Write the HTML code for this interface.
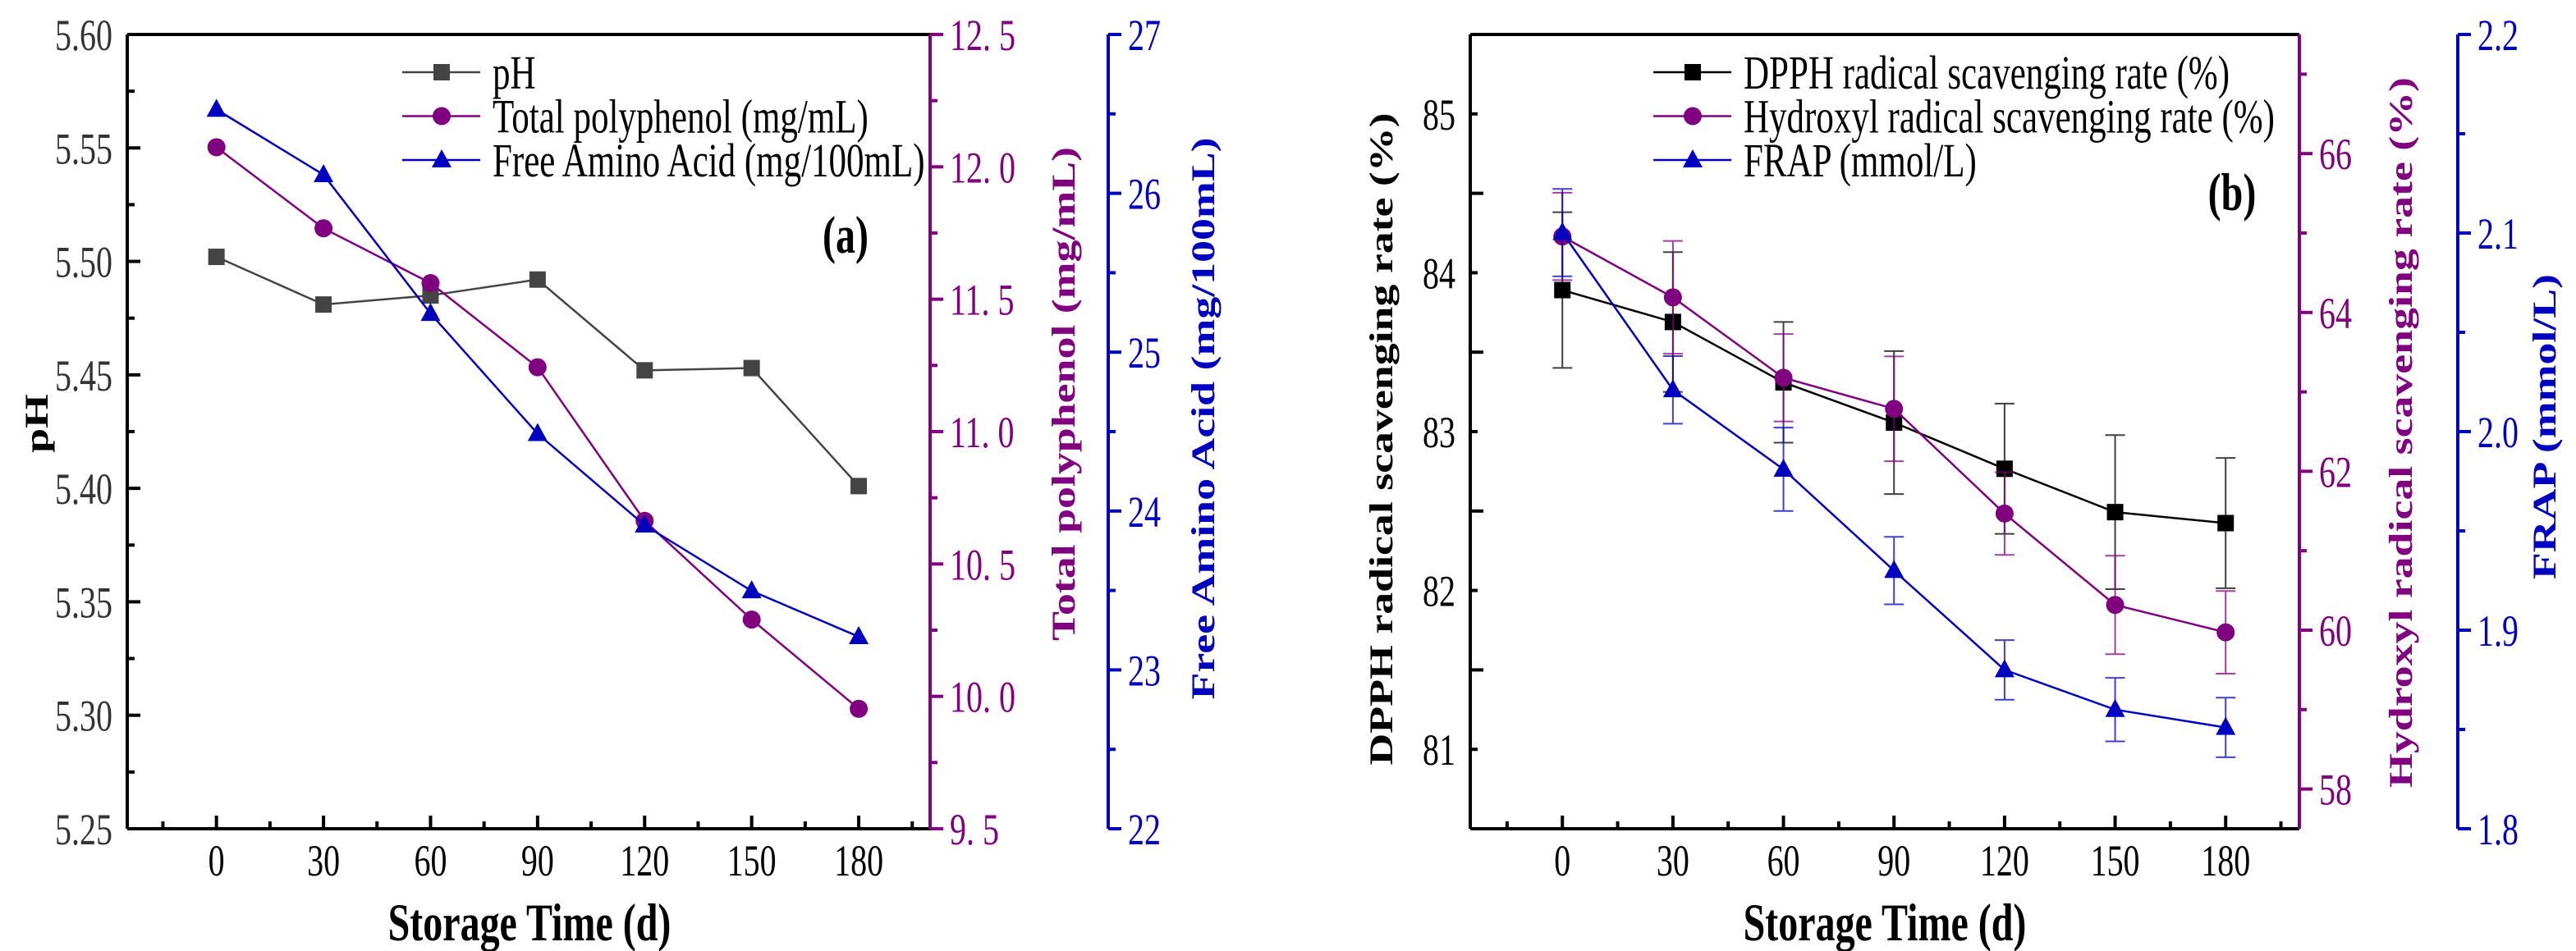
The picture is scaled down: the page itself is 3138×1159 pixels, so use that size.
<!DOCTYPE html>
<html><head><meta charset="utf-8"><style>
html,body{margin:0;padding:0;background:#fff;}
svg{display:block;font-family:"Liberation Serif",serif;}
</style></head><body>
<svg id="c" width="3138" height="1159" viewBox="0 0 3138 1159" xmlns="http://www.w3.org/2000/svg"></svg>
<script>
const days=[0,30,60,90,120,150,180];
const phVals=[5.502,5.481,5.485,5.492,5.452,5.453,5.401];
const polyVals=[12.074,11.768,11.561,11.243,10.663,10.29,9.953];
const aminoVals=[26.528,26.117,25.243,24.487,23.911,23.497,23.209];
const dpphVals=[83.891,83.69,83.31,83.057,82.766,82.493,82.424];
const dpphErr=[0.49,0.44,0.38,0.45,0.41,0.485,0.41];
const hydVals=[64.957,64.19,63.178,62.787,61.468,60.318,59.973];
const hydErr=[0.55,0.71,0.55,0.66,0.52,0.62,0.52];
const frapVals=[2.1002,2.021,1.981,1.930,1.880,1.860,1.851];
const frapErr=[0.022,0.017,0.021,0.017,0.015,0.016,0.015];
const xTicks=[0,30,60,90,120,150,180];

const svg=document.getElementById('c');
const NS='http://www.w3.org/2000/svg';
const SY=1.346;
function el(tag,attrs,parent,text){const e=document.createElementNS(NS,tag);for(const k in attrs)e.setAttribute(k,attrs[k]);if(text!==undefined)e.textContent=text;(parent||svg).appendChild(e);return e;}
function htext(g,x,y,text,size,opts){const a={transform:`translate(${x},${y}) scale(1,${SY})`,'font-size':size};Object.assign(a,opts||{});return el('text',a,g,text);}
function lin(d0,d1,r0,r1){return v=>r0+(v-d0)/(d1-d0)*(r1-r0);}
const TOP=42,BOT=1010;
const PURPLE='#800080',BLUE='#0000c0';

function marker(g,type,x,y,color){
  let m;
  if(type==='sq')m=el('rect',{x:x-10,y:y-10,width:20,height:20,fill:color},g);
  else if(type==='ci')m=el('circle',{cx:x,cy:y,r:11,fill:color},g);
  else m=el('polygon',{points:`${x},${y-13} ${x-12},${y+9} ${x+12},${y+9}`,fill:color},g);
  
  
}
function series(g,name,vals,err,sx,sy,color,type){
  const s=el('g',{},g);
  
  
  if(err){days.forEach((d,i)=>{const x=sx(d),y1=sy(vals[i]+err[i]),y2=sy(vals[i]-err[i]);
    const e=el('path',{d:`M${x},${y1}V${y2}M${x-12},${y1}h24M${x-12},${y2}h24`,stroke:color,'stroke-width':2,fill:'none','stroke-opacity':0.75},s);
    
    });}
  const l=el('polyline',{points:days.map((d,i)=>sx(d)+','+sy(vals[i])).join(' '),fill:'none',stroke:color,'stroke-width':2.5},s);
  
  
  days.forEach((d,i)=>marker(s,type,sx(d),sy(vals[i]),color));
}
function leftAxis(g,x,sy,lo,hi,step,minor){
  el('line',{x1:x,y1:TOP,x2:x,y2:BOT,stroke:'#000','stroke-width':4},g);
  for(let v=lo;v<=hi+1e-9;v+=minor){const y=sy(v);const k=(v-lo)/step;const major=Math.abs(k-Math.round(k))<1e-6;
    el('line',{x1:x,y1:y,x2:x+(major?16:9),y2:y,stroke:'#000','stroke-width':4},g);}
}
function rightAxis(g,x,sy,lo,hi,step,minor,fmt,color,labelStart,name){
  const a=el('g',{},g);
  
  
  el('line',{x1:x,y1:TOP,x2:x,y2:BOT,stroke:color,'stroke-width':4},a);
  const ratio=Math.round(step/minor);
  for(let k=Math.ceil((lo-labelStart)/minor-1e-6);labelStart+k*minor<=hi+1e-9;k++){
    const v=labelStart+k*minor;const y=sy(v);const major=k%ratio===0;
    el('line',{x1:x,y1:y,x2:x+(major?16:9),y2:y,stroke:color,'stroke-width':4},a);
    if(major)htext(a,x+24,y+19,fmt(v),40,{fill:color});}
}
function bottomAxis(g,x0,x1,sx){
  el('line',{x1:x0,y1:BOT,x2:x1,y2:BOT,stroke:'#000','stroke-width':4},g);
  for(let v=-15;v<=195;v+=15){const x=sx(v);const major=v%30===0&&v>=0&&v<=180;
    el('line',{x1:x,y1:BOT,x2:x,y2:BOT-(major?16:9),stroke:'#000','stroke-width':4},g);}
  xTicks.forEach(v=>{const t=htext(g,sx(v),BOT+57,String(v),40,{'text-anchor':'middle'});
    });
}
function legend(g,x,items){
  items.forEach((it,i)=>{const y=88+i*53.5;
    const r=el('g',{},g);
    
    
    el('line',{x1:x,y1:y,x2:x+95,y2:y,stroke:it.c,'stroke-width':2.5},r);
    marker(r,it.t,x+48,y,it.c);
    htext(r,x+110,y+20,it.n,43);});
}
function vtitle(g,x,y,text,color,name){
  const t=el('text',{transform:`translate(${x},${y}) rotate(-90) scale(${SY},1)`,'text-anchor':'middle','font-size':40,'font-weight':'bold',fill:color},g,text);
  
}

/* Panel a */
(function(){
  const g=el('g',{});
  const L=155,R=1133;
  const sx=lin(-25,200,L,R);
  const sy=lin(5.25,5.60,BOT,TOP), sp=lin(9.5,12.5,BOT,TOP), sa=lin(22,27,BOT,TOP);
  el('line',{x1:L,y1:TOP,x2:R,y2:TOP,stroke:'#000','stroke-width':4},g);
  leftAxis(g,L,sy,5.25,5.60,0.05,0.025);
  for(let v=5.25;v<=5.601;v+=0.05){const t=htext(g,L-18,sy(v)+19,v.toFixed(2),40,{'text-anchor':'end',fill:'#333'});
    }
  bottomAxis(g,L,R,sx);
  rightAxis(g,R,sp,9.5,12.5,0.5,0.25,v=>v.toFixed(1).replace('.','. '),PURPLE,9.5,'polyphenol-axis');
  rightAxis(g,1350,sa,22,27,1,0.5,v=>String(v),BLUE,22,'amino-acid-axis');
  series(g,'series-ph',phVals,null,sx,sy,'#444','sq');
  series(g,'series-polyphenol',polyVals,null,sx,sp,PURPLE,'ci');
  series(g,'series-amino-acid',aminoVals,null,sx,sa,BLUE,'tr');
  legend(g,490,[{n:'pH',c:'#444',t:'sq'},{n:'Total polyphenol (mg/mL)',c:PURPLE,t:'ci'},{n:'Free Amino Acid (mg/100mL)',c:BLUE,t:'tr'}]);
  htext(g,1030,308,'(a)',48,{'font-weight':'bold','text-anchor':'middle'});
  vtitle(g,58,516,'pH','#000','y-axis-title-ph');
  vtitle(g,1309,480,'Total polyphenol (mg/mL)',PURPLE,'y-axis-title-polyphenol');
  vtitle(g,1479,510,'Free Amino Acid (mg/100mL)',BLUE,'y-axis-title-amino');
  const t=htext(g,645,1146,'Storage Time (d)',48,{'font-weight':'bold','text-anchor':'middle'});
  
})();

/* Panel b */
(function(){
  const g=el('g',{});
  const L=1791,R=2801;
  const sx=lin(-25,200,L,R);
  const sy=lin(80.5,85.5,BOT,TOP), sh=lin(57.5,67.5,BOT,TOP), sf=lin(1.8,2.2,BOT,TOP);
  el('line',{x1:L,y1:TOP,x2:R,y2:TOP,stroke:'#000','stroke-width':4},g);
  leftAxis(g,L,sy,80.5,85.5,1,0.5);
  for(let v=81;v<=85;v++){const t=htext(g,L-18,sy(v)+19,String(v),40,{'text-anchor':'end'});
    }
  bottomAxis(g,L,R,sx);
  rightAxis(g,R,sh,57.5,67.5,2,1,v=>String(v),PURPLE,58,'hydroxyl-axis');
  rightAxis(g,2994,sf,1.8,2.2,0.1,0.05,v=>v.toFixed(1),BLUE,1.8,'frap-axis');
  series(g,'series-dpph',dpphVals,dpphErr,sx,sy,'#000','sq');
  series(g,'series-hydroxyl',hydVals,hydErr,sx,sh,PURPLE,'ci');
  series(g,'series-frap',frapVals,frapErr,sx,sf,BLUE,'tr');
  legend(g,2014,[{n:'DPPH radical scavenging rate (%)',c:'#000',t:'sq'},{n:'Hydroxyl radical scavenging rate (%)',c:PURPLE,t:'ci'},{n:'FRAP (mmol/L)',c:BLUE,t:'tr'}]);
  htext(g,2719,256,'(b)',48,{'font-weight':'bold','text-anchor':'middle'});
  vtitle(g,1696,535,'DPPH radical scavenging rate (%)','#000','y-axis-title-dpph');
  vtitle(g,2938,527,'Hydroxyl radical scavenging rate (%)',PURPLE,'y-axis-title-hydroxyl');
  vtitle(g,3113,520,'FRAP (mmol/L)',BLUE,'y-axis-title-frap');
  const t=htext(g,2296,1146,'Storage Time (d)',48,{'font-weight':'bold','text-anchor':'middle'});
  
})();
</script>
</body></html>
